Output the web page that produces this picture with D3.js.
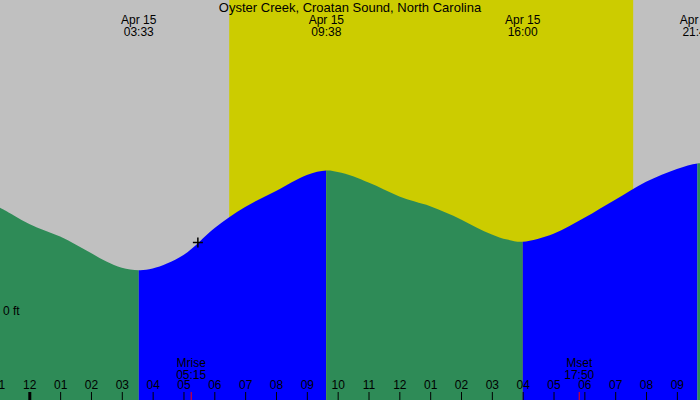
<!DOCTYPE html>
<html>
<head>
    <title>Oyster Creek tide</title>
    <script src="https://d3js.org/d3.v7.min.js"></script>
    <style>
        body {
            margin: 0;
            font-family: "Liberation Sans", Arial, sans-serif;
        }
        text {
            font-family: "Liberation Sans", Arial, sans-serif;
            font-size: 12px;
            fill: #000;
        }
    </style>
</head>
<body>
    <div id="chart"></div>
    <script>
        // hours from midnight Apr 15 (negative = Apr 14)
        const tideHours = [-1, -0.5, 0, 0.5, 1, 1.5, 2, 2.5, 3, 3.55, 4, 5, 6, 7, 8, 9, 9.633, 10, 10.5, 11, 11.5, 12, 12.5, 13, 13.5, 14, 14.5, 15, 15.5, 16, 17, 18, 19, 20, 21, 21.667, 22];
        const tideFeet = [0.260, 0.239, 0.2175, 0.201, 0.186, 0.166, 0.145, 0.1235, 0.108, 0.102, 0.106, 0.14, 0.207, 0.26, 0.30, 0.34, 0.351, 0.3475, 0.337, 0.321, 0.304, 0.2865, 0.2735, 0.262, 0.246, 0.229, 0.209, 0.1915, 0.1785, 0.173, 0.193, 0.233, 0.278, 0.323, 0.355, 0.369, 0.368];

        const extremeTimes = ["03:33", "09:38", "16:00", "21:40"];
        const extremeKinds = ["L", "H", "L", "H"];
        const extremeDate = "Apr 15";

        const sunrise = "06:29";
        const sunset = "19:35";
        const moonEvents = [
            { name: "Mrise", time: "05:15" },
            { name: "Mset", time: "17:50" }
        ];
        const nowTime = "05:28";
        const nowFeet = 0.171;

        const hourTicks = d3.range(-1, 22);
        const title = "Oyster Creek, Croatan Sound, North Carolina";

        const width = 700, height = 400;
        const toHours = s => { const [h, m] = s.split(":").map(Number); return h + m / 60; };

        const x = d3.scaleLinear().domain([-0.95, 21.75]).range([0, width]);
        const y = d3.scaleLinear().domain([0, 1]).range([311, -89]);

        const svg = d3.select("#chart")
            .append("svg")
            .attr("width", width)
            .attr("height", height);

        // night / day background
        svg.append("rect")
            .attr("width", width)
            .attr("height", height)
            .attr("fill", "#c0c0c0");
        svg.append("rect")
            .attr("x", x(toHours(sunrise)))
            .attr("width", x(toHours(sunset)) - x(toHours(sunrise)))
            .attr("height", height)
            .attr("fill", "#cccc00");

        // tide area, used as clip for the rising / falling colours
        const points = tideHours.map((h, i) => [h, tideFeet[i]]);
        const area = d3.area()
            .x(d => x(d[0]))
            .y0(height)
            .y1(d => y(d[1]))
            .curve(d3.curveCatmullRom.alpha(0.5));

        svg.append("clipPath")
            .attr("id", "tide-clip")
            .append("path")
            .attr("d", area(points));

        const bounds = [x.domain()[0], ...extremeTimes.map(toHours), x.domain()[1]];
        const segments = d3.pairs(bounds).map(([a, b], i) => ({
            a, b,
            rising: i < extremeKinds.length && extremeKinds[i] === "H"
        }));

        svg.append("g")
            .attr("clip-path", "url(#tide-clip)")
            .selectAll("rect")
            .data(segments)
            .enter()
            .append("rect")
            .attr("x", d => x(d.a))
            .attr("width", d => x(d.b) - x(d.a))
            .attr("y", 0)
            .attr("height", height)
            .attr("fill", d => d.rising ? "#0000ff" : "#2e8b57");

        // title
        svg.append("text")
            .attr("x", width / 2)
            .attr("y", 12)
            .attr("text-anchor", "middle")
            .style("font-size", "13px")
            .text(title);

        // high / low labels
        const ext = svg.append("g")
            .selectAll("g")
            .data(extremeTimes)
            .enter()
            .append("g")
            .attr("transform", d => `translate(${x(toHours(d))},0)`);
        ext.append("text")
            .attr("y", 24)
            .attr("text-anchor", "middle")
            .text(extremeDate);
        ext.append("text")
            .attr("y", 36)
            .attr("text-anchor", "middle")
            .text(d => d);

        // 0 ft label
        svg.append("text")
            .attr("x", 3)
            .attr("y", y(0) + 4)
            .text("0 ft");

        // current time marker
        const cx = x(toHours(nowTime)), cy = y(nowFeet);
        svg.append("path")
            .attr("d", `M${cx - 5},${cy}H${cx + 5}M${cx},${cy - 5}V${cy + 5}`)
            .attr("stroke", "#000")
            .attr("stroke-width", 1.5);

        // hour axis
        const axis = d3.axisTop(x)
            .tickValues(hourTicks)
            .tickSize(8)
            .tickPadding(3)
            .tickFormat(h => d3.format("02d")(((h % 12) + 12) % 12 || 12));

        const ax = svg.append("g")
            .attr("transform", `translate(0,${height})`)
            .call(axis);
        ax.select(".domain").remove();
        ax.selectAll("text")
            .style("font-size", "12px")
            .style("font-family", "'Liberation Sans', Arial, sans-serif")
            .attr("fill", "#000");
        ax.selectAll(".tick line")
            .attr("stroke", "#000")
            .attr("stroke-width", d => d === 0 ? 3 : 1);

        // moon rise / set
        const moon = svg.append("g")
            .selectAll("g")
            .data(moonEvents)
            .enter()
            .append("g")
            .attr("transform", d => `translate(${x(toHours(d.time))},0)`);
        moon.append("text")
            .attr("y", 366.5)
            .attr("text-anchor", "middle")
            .text(d => d.name);
        moon.append("text")
            .attr("y", 378.5)
            .attr("text-anchor", "middle")
            .text(d => d.time);
        moon.append("line")
            .attr("y1", height - 8)
            .attr("y2", height)
            .attr("stroke", "#ff0000")
            .attr("stroke-width", 1);
    </script>
</body>
</html>
